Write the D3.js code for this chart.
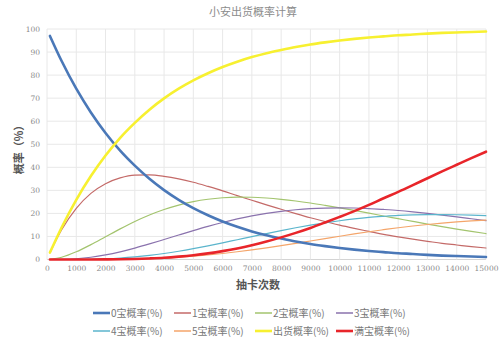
<!DOCTYPE html>
<html><head><meta charset="utf-8">
<script src="https://cdn.jsdelivr.net/npm/d3@7"></script>
<style>
html,body{margin:0;padding:0;background:#fff;}
svg{display:block;font-family:"Noto Sans CJK SC","Noto Sans",sans-serif;}
</style></head>
<body>
<svg id="c" width="500" height="340"></svg>
<script>
const title = "小安出货概率计算";
const xLabel = "抽卡次数";
const yLabel = "概率（%）";
const draws = [100,500,1000,1500,2000,2500,3000,3500,4000,4500,5000,5500,6000,6500,7000,7500,8000,8500,9000,9500,10000,10500,11000,11500,12000,12500,13000,13500,14000,14500,15000];
const p0 = [97.0,86.1,74.1,63.8,54.9,47.2,40.7,35.0,30.1,25.9,22.3,19.2,16.5,14.2,12.2,10.5,9.1,7.8,6.7,5.8,5.0,4.3,3.7,3.2,2.7,2.4,2.0,1.7,1.5,1.3,1.1];
const p1 = [2.9,12.9,22.2,28.7,32.9,35.4,36.6,36.7,36.1,35.0,33.5,31.7,29.8,27.7,25.7,23.7,21.8,19.9,18.1,16.5,14.9,13.5,12.2,10.9,9.8,8.8,7.9,7.0,6.3,5.6,5.0];
const p2 = [0.04,0.97,3.33,6.46,9.88,13.29,16.47,19.29,21.69,23.62,25.10,26.14,26.78,27.06,27.01,26.68,26.12,25.39,24.50,23.48,22.40,21.28,20.10,18.88,17.71,16.53,15.37,14.26,13.21,12.20,11.25];
const p3 = [0.0,0.05,0.33,0.97,1.98,3.32,4.94,6.75,8.68,10.63,12.55,14.38,16.07,17.59,18.91,20.01,20.90,21.58,22.05,22.31,22.40,22.34,22.11,21.71,21.25,20.66,19.98,19.25,18.49,17.69,16.88];
const p4 = [0.0,0.0,0.02,0.11,0.30,0.62,1.11,1.77,2.60,3.59,4.71,5.93,7.23,8.58,9.93,11.26,12.54,13.76,14.88,15.90,16.80,17.59,18.24,18.72,19.13,19.37,19.48,19.49,19.41,19.24,18.99];
const p5 = [0.0,0.0,0.0,0.01,0.04,0.09,0.20,0.37,0.62,0.97,1.41,1.96,2.60,3.35,4.17,5.07,6.02,7.02,8.04,9.06,10.08,11.08,12.04,12.92,13.77,14.53,15.19,15.79,16.30,16.74,17.09];
const pAny = [3.0,13.9,25.9,36.2,45.1,52.8,59.3,65.0,69.9,74.1,77.7,80.8,83.5,85.8,87.8,89.5,90.9,92.2,93.3,94.2,95.0,95.7,96.3,96.8,97.3,97.6,98.0,98.3,98.5,98.7,98.9];
const pFull = [0.0,0.0,0.02,0.03,0.05,0.10,0.23,0.46,0.77,1.25,1.86,2.67,3.64,4.79,6.18,7.79,9.60,11.55,13.70,16.05,18.48,20.99,23.68,26.57,29.34,32.27,35.27,38.22,41.10,43.97,46.77];
const seriesNames = ["0宝概率(%)","1宝概率(%)","2宝概率(%)","3宝概率(%)","4宝概率(%)","5宝概率(%)","出货概率(%)","满宝概率(%)"];
const xTicks = [0,1000,2000,3000,4000,5000,6000,7000,8000,9000,10000,11000,12000,13000,14000,15000];
const yTicks = [0,10,20,30,40,50,60,70,80,90,100];

const seriesData = [p0,p1,p2,p3,p4,p5,pAny,pFull];
const colors = ["#4a78b8","#c46a68","#a3c46e","#8a72ad","#5bb5cc","#f4a56a","#f7f030","#e8252a"];
const widths = [2.6,1.2,1.2,1.2,1.2,1.2,2.6,2.6];

const svg = d3.select("#c");
const x = d3.scaleLinear().domain([0,15000]).range([47,486]);
const y = d3.scaleLinear().domain([0,100]).range([259.5,29]);

// grid
const g = svg.append("g");
g.selectAll("line.h").data(yTicks).join("line")
  .attr("x1",x(0)).attr("x2",x(15000))
  .attr("y1",d=>y(d)).attr("y2",d=>y(d))
  .attr("stroke",d=>d===0?"#d4d4d4":"#e8e8e8").attr("stroke-width",1);
g.selectAll("line.v").data(xTicks).join("line")
  .attr("y1",y(0)).attr("y2",y(100))
  .attr("x1",d=>x(d)).attr("x2",d=>x(d))
  .attr("stroke","#e8e8e8").attr("stroke-width",1);

// axes labels via d3 axes
const xAxis = d3.axisBottom(x).tickValues(xTicks).tickSize(0).tickPadding(6).tickFormat(d3.format("d"));
const yAxis = d3.axisLeft(y).tickValues(yTicks).tickSize(0).tickPadding(7).tickFormat(d3.format("d"));
const gx = svg.append("g").attr("transform",`translate(0,${y(0)})`).call(xAxis);
const gy = svg.append("g").attr("transform",`translate(${x(0)},0)`).call(yAxis);
[gx,gy].forEach(a=>{
  a.select(".domain").remove();
  a.selectAll("text").attr("fill","#8a8a8a").style("font-size","7.5px").style("font-family","'DejaVu Serif','Liberation Serif',serif");
});

// lines
const line = d3.line().x((d,i)=>x(draws[i])).y(d=>y(d)).curve(d3.curveMonotoneX);
const order = [1,2,3,4,5,0,6,7];
order.forEach(k=>{
  svg.append("path").datum(seriesData[k])
    .attr("d",line).attr("fill","none")
    .attr("stroke",colors[k]).attr("stroke-width",widths[k])
    .attr("stroke-linecap","round").attr("stroke-linejoin","round");
});

// title
svg.append("text").attr("x",253).attr("y",16).attr("text-anchor","middle")
  .attr("fill","#8c8c8c").style("font-size","11px").text(title);
// x label
svg.append("text").attr("x",258).attr("y",289).attr("text-anchor","middle")
  .attr("fill","#555").style("font-size","11px").style("font-weight","bold").text(xLabel);
// y label
svg.append("text").attr("transform","translate(23,147) rotate(-90)").attr("text-anchor","middle")
  .attr("fill","#555").style("font-size","11px").style("font-weight","bold").text(yLabel);

// legend
const legX = [93,174,255,336];
const legY = [313,331];
seriesNames.forEach((name,i)=>{
  const col = i%4, row = Math.floor(i/4);
  const lg = svg.append("g").attr("transform",`translate(${legX[col]},${legY[row]})`);
  lg.append("line").attr("x1",0).attr("x2",17).attr("y1",0).attr("y2",0)
    .attr("stroke",colors[i]).attr("stroke-width",widths[i]>2?2.6:1.5);
  lg.append("text").attr("x",18).attr("y",3.5).attr("fill","#777")
    .style("font-size","10px").text(name);
});
</script>
</body></html>
